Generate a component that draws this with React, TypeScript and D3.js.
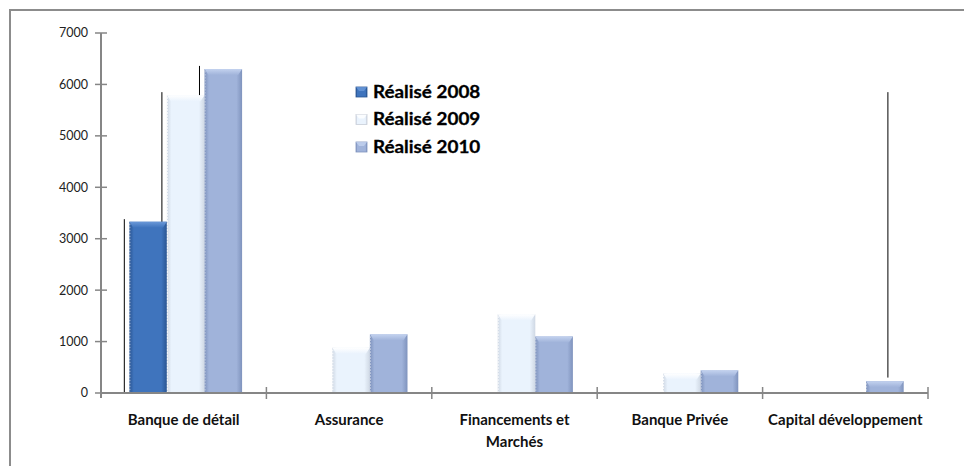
import React from "react";
import * as d3 from "d3";

const categories = ["Banque de détail", "Assurance", "Financements et Marchés", "Banque Privée", "Capital développement"];
const categoryLines = [["Banque de détail"], ["Assurance"], ["Financements et", "Marchés"], ["Banque Privée"], ["Capital développement"]];
const series = ["Réalisé 2008", "Réalisé 2009", "Réalisé 2010"];
const values2008 = [3330, 0, 0, 0, 0];
const values2009 = [5790, 880, 1530, 380, 0];
const values2010 = [6300, 1140, 1100, 440, 230];
const yTicks = [0, 1000, 2000, 3000, 4000, 5000, 6000, 7000];
// stray vertical lines in the original picture
const lineCats = [0, 0, 0, 4];
const lineSeries = [0, 1, 2, 2];
const lineTop = [3380, 5850, 6360, 5850];
const lineBottom = [0, 0, 0, 300];
const lineAnchor = ["left", "left", "left", "center"];

const W = 964, H = 466;
const X0 = 101, X1 = 928, Y0 = 393, Y1 = 33;

const palette = [
  { edge: "#2a5592", mid: "#3f74bd", top: "#6a98d8", side: "#c9d6ea" },
  { edge: "#cfd8e4", mid: "#eaf3fd", top: "#ffffff", side: "#ffffff" },
  { edge: "#7f93bd", mid: "#a0b3da", top: "#c3d2ef", side: "#c8d2e4" },
];

export default function App() {
  const allValues = [values2008, values2009, values2010];
  const x0 = d3.scaleBand<string>().domain(categories).range([X0, X1]).padding(0);
  const x1 = d3.scaleBand<string>().domain(series).range([0, x0.bandwidth()]).paddingInner(0).paddingOuter(0.7);
  const y = d3.scaleLinear().domain([0, 7000]).range([Y0, Y1]);
  const bw = x1.bandwidth();
  const shift = 2;
  const font = "Lato, 'Open Sans', sans-serif";

  return (
    <svg width={W} height={H} style={{ position: "absolute", left: 0, top: 0, background: "#fff" }}>
      <defs>
        {palette.map((p, i) => (
          <linearGradient key={i} id={`gh${i}`} x1="0" x2="1" y1="0" y2="0">
            <stop offset="0" stopColor={p.edge} />
            <stop offset="0.12" stopColor={p.mid} />
            <stop offset="0.85" stopColor={p.mid} />
            <stop offset="1" stopColor={p.edge} />
          </linearGradient>
        ))}
        {palette.map((p, i) => (
          <linearGradient key={i} id={`gt${i}`} x1="0" x2="0" y1="0" y2="1">
            <stop offset="0" stopColor={p.top} />
            <stop offset="1" stopColor={p.mid} />
          </linearGradient>
        ))}
      </defs>
      <rect x={10} y={10} width={W + 20} height={H + 20} fill="none" stroke="#8c8c8c" strokeWidth={2} />

      {/* stray lines */}
      {lineCats.map((c, i) => {
        const left = (x0(categories[c]) ?? 0) + (x1(series[lineSeries[i]]) ?? 0) + shift;
        const lx = lineAnchor[i] === "left" ? left - 5.5 : left + bw / 2 + 2.5;
        return <line key={i} x1={lx + 0.5} x2={lx + 0.5} y1={y(lineTop[i])} y2={y(lineBottom[i])} stroke="#000" strokeWidth={1} />;
      })}

      {/* bars */}
      {categories.map((cat, ci) => (
        <g key={cat}>
          {series.map((s, si) => {
            const v = allValues[si][ci];
            if (!v) return null;
            const bx = (x0(cat) ?? 0) + (x1(s) ?? 0) + shift;
            const by = y(v);
            const bh = Y0 - by;
            const cap = Math.min(6, bh / 2);
            return (
              <g key={s}>
                <rect x={bx} y={by} width={bw} height={bh} fill={`url(#gh${si})`} />
                <path
                  d={`M${bx},${by}L${bx + bw},${by}L${bx + bw - 4},${by + cap}L${bx + 4},${by + cap}Z`}
                  fill={`url(#gt${si})`}
                />
                <line x1={bx + 0.5} x2={bx + 0.5} y1={by + 2} y2={Y0} stroke={palette[si].side} strokeWidth={1} strokeDasharray="1.5 1.5" />
              </g>
            );
          })}
        </g>
      ))}

      {/* y axis */}
      <line x1={X0} x2={X0} y1={Y1} y2={Y0 + 5} stroke="#868686" strokeWidth={2} />
      {yTicks.map((t) => (
        <g key={t}>
          <line x1={X0 - 6} x2={X0 + 6} y1={y(t)} y2={y(t)} stroke="#868686" strokeWidth={1.5} />
          <text x={88} y={y(t)} dy="0.35em" textAnchor="end" fontFamily={font} fontSize={12.5} fill="#222">
            {t}
          </text>
        </g>
      ))}

      {/* x axis */}
      <line x1={X0} x2={X1} y1={Y0} y2={Y0} stroke="#868686" strokeWidth={2} />
      {categories.map((cat, i) => (
        <line key={i} x1={(x0(cat) ?? 0) + x0.bandwidth()} x2={(x0(cat) ?? 0) + x0.bandwidth()} y1={Y0 - 6} y2={Y0 + 6} stroke="#868686" strokeWidth={1.5} />
      ))}
      {categories.map((cat, i) => (
        <text key={cat} x={(x0(cat) ?? 0) + x0.bandwidth() / 2} y={425} textAnchor="middle" fontFamily={font} fontWeight="bold" fontSize={15} fill="#111">
          {categoryLines[i].map((ln, k) => (
            <tspan key={k} x={(x0(cat) ?? 0) + x0.bandwidth() / 2} dy={k === 0 ? 0 : 21.5}>
              {ln}
            </tspan>
          ))}
        </text>
      ))}

      {/* legend */}
      {series.map((s, i) => (
        <g key={s} transform={`translate(356, ${92 + i * 27.5})`}>
          <rect x={0} y={-5} width={11} height={10} fill={`url(#gh${i})`} stroke={i === 1 ? "#c8ced8" : palette[i].edge} strokeWidth={0.8} />
          <path d="M0,-5L11,-5L8,-1L3,-1Z" fill={palette[i].top} opacity={0.8} />
          <g transform="translate(17,0) scale(1.11,1)">
            <text x={0} y={0} dy="0.35em" fontFamily={font} fontWeight="bold" fontSize={17} fill="#000" stroke="#000" strokeWidth={0.3}>
              {s}
            </text>
          </g>
        </g>
      ))}
    </svg>
  );
}
